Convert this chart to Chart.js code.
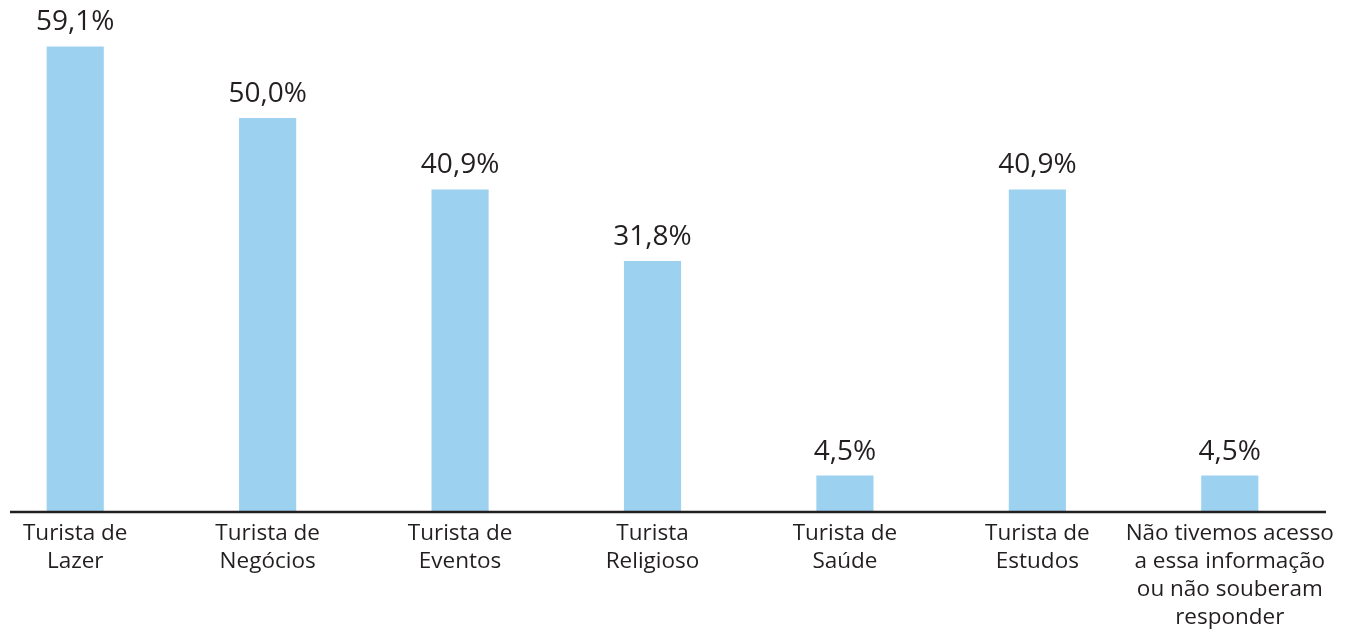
<!DOCTYPE html>
<html>
<head>
<meta charset="utf-8">
<script src="https://cdn.jsdelivr.net/npm/chart.js@4.4.0/dist/chart.umd.min.js"></script>
<style>
  html, body { margin: 0; padding: 0; background: #fff; overflow: hidden; }
  #wrap { position: absolute; left: -21px; top: 0; width: 1368px; height: 632px; }
</style>
</head>
<body>
<div id="wrap"><canvas id="chart"></canvas></div>
<script>
// categories (multi-line tick labels)
const categories = [
  ['Turista de', 'Lazer'],
  ['Turista de', 'Negócios'],
  ['Turista de', 'Eventos'],
  ['Turista', 'Religioso'],
  ['Turista de', 'Saúde'],
  ['Turista de', 'Estudos'],
  ['Não tivemos acesso', 'a essa informação', 'ou não souberam', 'responder']
];
// percent values
const values = [59.1, 50.0, 40.9, 31.8, 4.5, 40.9, 4.5];

const textColor = '#231f20';
const barColor = '#9dd1f0';
const shift = 21; // canvas is shifted left by this much

// value labels above bars + custom baseline
const labelsPlugin = {
  id: 'valueLabels',
  afterDatasetsDraw(chart) {
    const ctx = chart.ctx;
    const meta = chart.getDatasetMeta(0);
    ctx.save();
    ctx.fillStyle = textColor;
    ctx.font = '28px "Open Sans", sans-serif';
    ctx.textAlign = 'center';
    ctx.textBaseline = 'bottom';
    meta.data.forEach((bar, i) => {
      const txt = values[i].toFixed(1).replace('.', ',') + '%';
      ctx.fillText(txt, bar.x, bar.y - 10);
    });
    // axis line
    const yb = chart.chartArea.bottom + 1;
    ctx.strokeStyle = textColor;
    ctx.lineWidth = 2.5;
    ctx.beginPath();
    ctx.moveTo(10 + shift, yb);
    ctx.lineTo(chart.chartArea.right, yb);
    ctx.stroke();
    ctx.restore();
  }
};

new Chart(document.getElementById('chart'), {
  type: 'bar',
  data: {
    labels: categories,
    datasets: [{
      data: values,
      backgroundColor: barColor,
      borderWidth: 0,
      barPercentage: 1,
      categoryPercentage: 0.297
    }]
  },
  options: {
    responsive: true,
    maintainAspectRatio: false,
    animation: false,
    layout: { padding: { left: 0, right: 21, top: 0, bottom: 0 } },
    plugins: {
      legend: { display: false },
      tooltip: { enabled: false }
    },
    scales: {
      x: {
        offset: true,
        grid: { display: false },
        border: { display: false },
        ticks: {
          color: textColor,
          font: { family: '"Open Sans", sans-serif', size: 22.5, lineHeight: 1.24 },
          padding: 1,
          maxRotation: 0,
          autoSkip: false
        },
        afterFit(scale) {
          scale.height = 121;
          scale.paddingLeft = 0;
          scale.paddingRight = 0;
        }
      },
      y: {
        display: false,
        min: 0,
        max: 65
      }
    }
  },
  plugins: [labelsPlugin]
});
</script>
</body>
</html>
